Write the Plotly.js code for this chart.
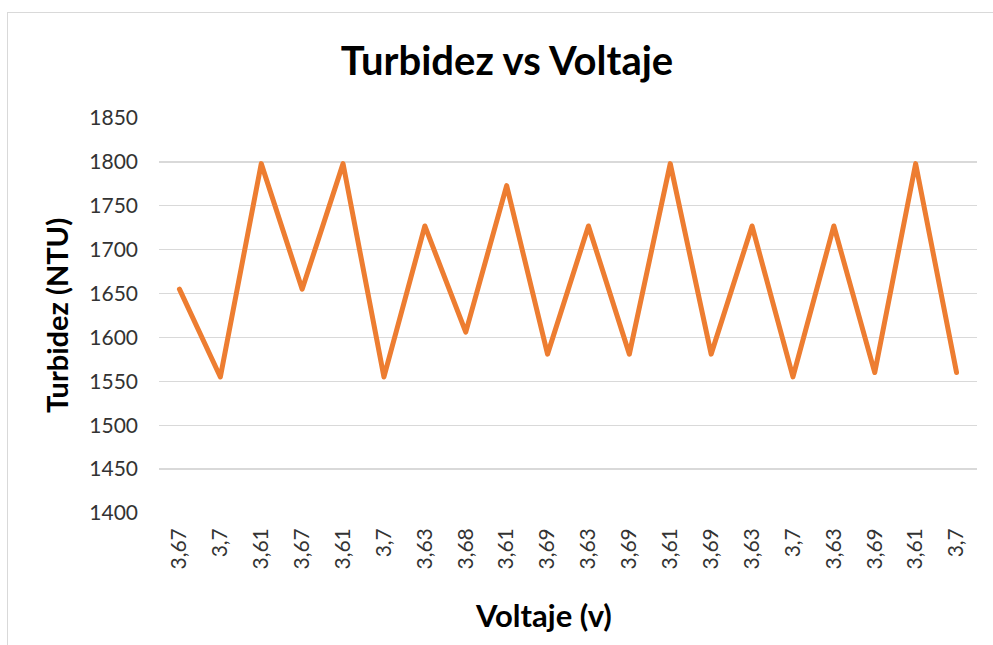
<!DOCTYPE html>
<html>
<head>
<meta charset="utf-8">
<script src="https://cdn.plot.ly/plotly-3.0.1.min.js"></script>
<style>
  html, body { margin: 0; padding: 0; background: #ffffff; overflow: hidden; }
  #frame { position: absolute; left: 7px; top: 12px; width: 1100px; height: 800px; border: 1px solid #d9d9d9; box-sizing: border-box; }
  #chart { position: absolute; left: 0; top: 0; width: 993px; height: 645px; }
  #chart .scatterlayer path.js-line { stroke-linejoin: round !important; stroke-linecap: round !important; }
</style>
</head>
<body>
<div id="frame"></div>
<div id="chart"></div>
<script>
const voltajeLabels = ["3,67","3,7","3,61","3,67","3,61","3,7","3,63","3,68","3,61","3,69",
                       "3,63","3,69","3,61","3,69","3,63","3,7","3,63","3,69","3,61","3,7"];
const turbidez = [1655,1555,1798,1655,1798,1555,1727,1606,1773,1581,
                  1727,1581,1798,1581,1727,1555,1727,1560,1798,1560];
const positions = voltajeLabels.map((_, i) => i);
const yTicks = [1400,1450,1500,1550,1600,1650,1700,1750,1800,1850];

const FONT = "Lato, 'Open Sans', sans-serif";

const trace = {
  type: "scatter",
  mode: "lines",
  x: positions,
  y: turbidez,
  line: { color: "#ED7D31", width: 5 },
  hoverinfo: "skip",
  showlegend: false
};

const layout = {
  width: 993,
  height: 645,
  margin: { l: 159, r: 16, t: 118, b: 132 },
  paper_bgcolor: "rgba(0,0,0,0)",
  plot_bgcolor: "rgba(0,0,0,0)",
  font: { family: FONT, color: "#404040" },
  title: {
    text: "<b>Turbidez vs Voltaje</b>",
    font: { family: FONT, size: 40, color: "#000000" },
    x: 507 / 993, xref: "container", xanchor: "center",
    y: 1 - 61 / 645, yref: "container", yanchor: "middle"
  },
  xaxis: {
    range: [-0.5, 19.5],
    tickmode: "array",
    tickvals: positions,
    ticktext: voltajeLabels,
    tickangle: -90,
    ticks: "",
    ticklabelstandoff: 10,
    showgrid: false,
    zeroline: false,
    showline: false,
    tickfont: { family: FONT, size: 21, color: "#333333" },
    fixedrange: true
  },
  yaxis: {
    range: [1400, 1850],
    tickmode: "array",
    tickvals: yTicks,
    ticktext: yTicks.map(String),
    ticks: "",
    ticklabelstandoff: 20,
    showgrid: true,
    gridcolor: "#d9d9d9",
    gridwidth: 1.3,
    zeroline: false,
    showline: false,
    tickfont: { family: FONT, size: 21, color: "#333333" },
    title: { text: "<b>Turbidez (NTU)</b>", font: { family: FONT, size: 29, color: "#000000" }, standoff: 12 },
    fixedrange: true
  },
  annotations: [{
    text: "<b>Voltaje (v)</b>",
    font: { family: FONT, size: 31, color: "#000000" },
    xref: "paper", yref: "paper",
    x: (543 - 159) / 818, y: -(615 - 513) / 395,
    xanchor: "center", yanchor: "middle",
    showarrow: false
  }]
};

Plotly.newPlot("chart", [trace], layout, { displayModeBar: false, staticPlot: true });
</script>
</body>
</html>
